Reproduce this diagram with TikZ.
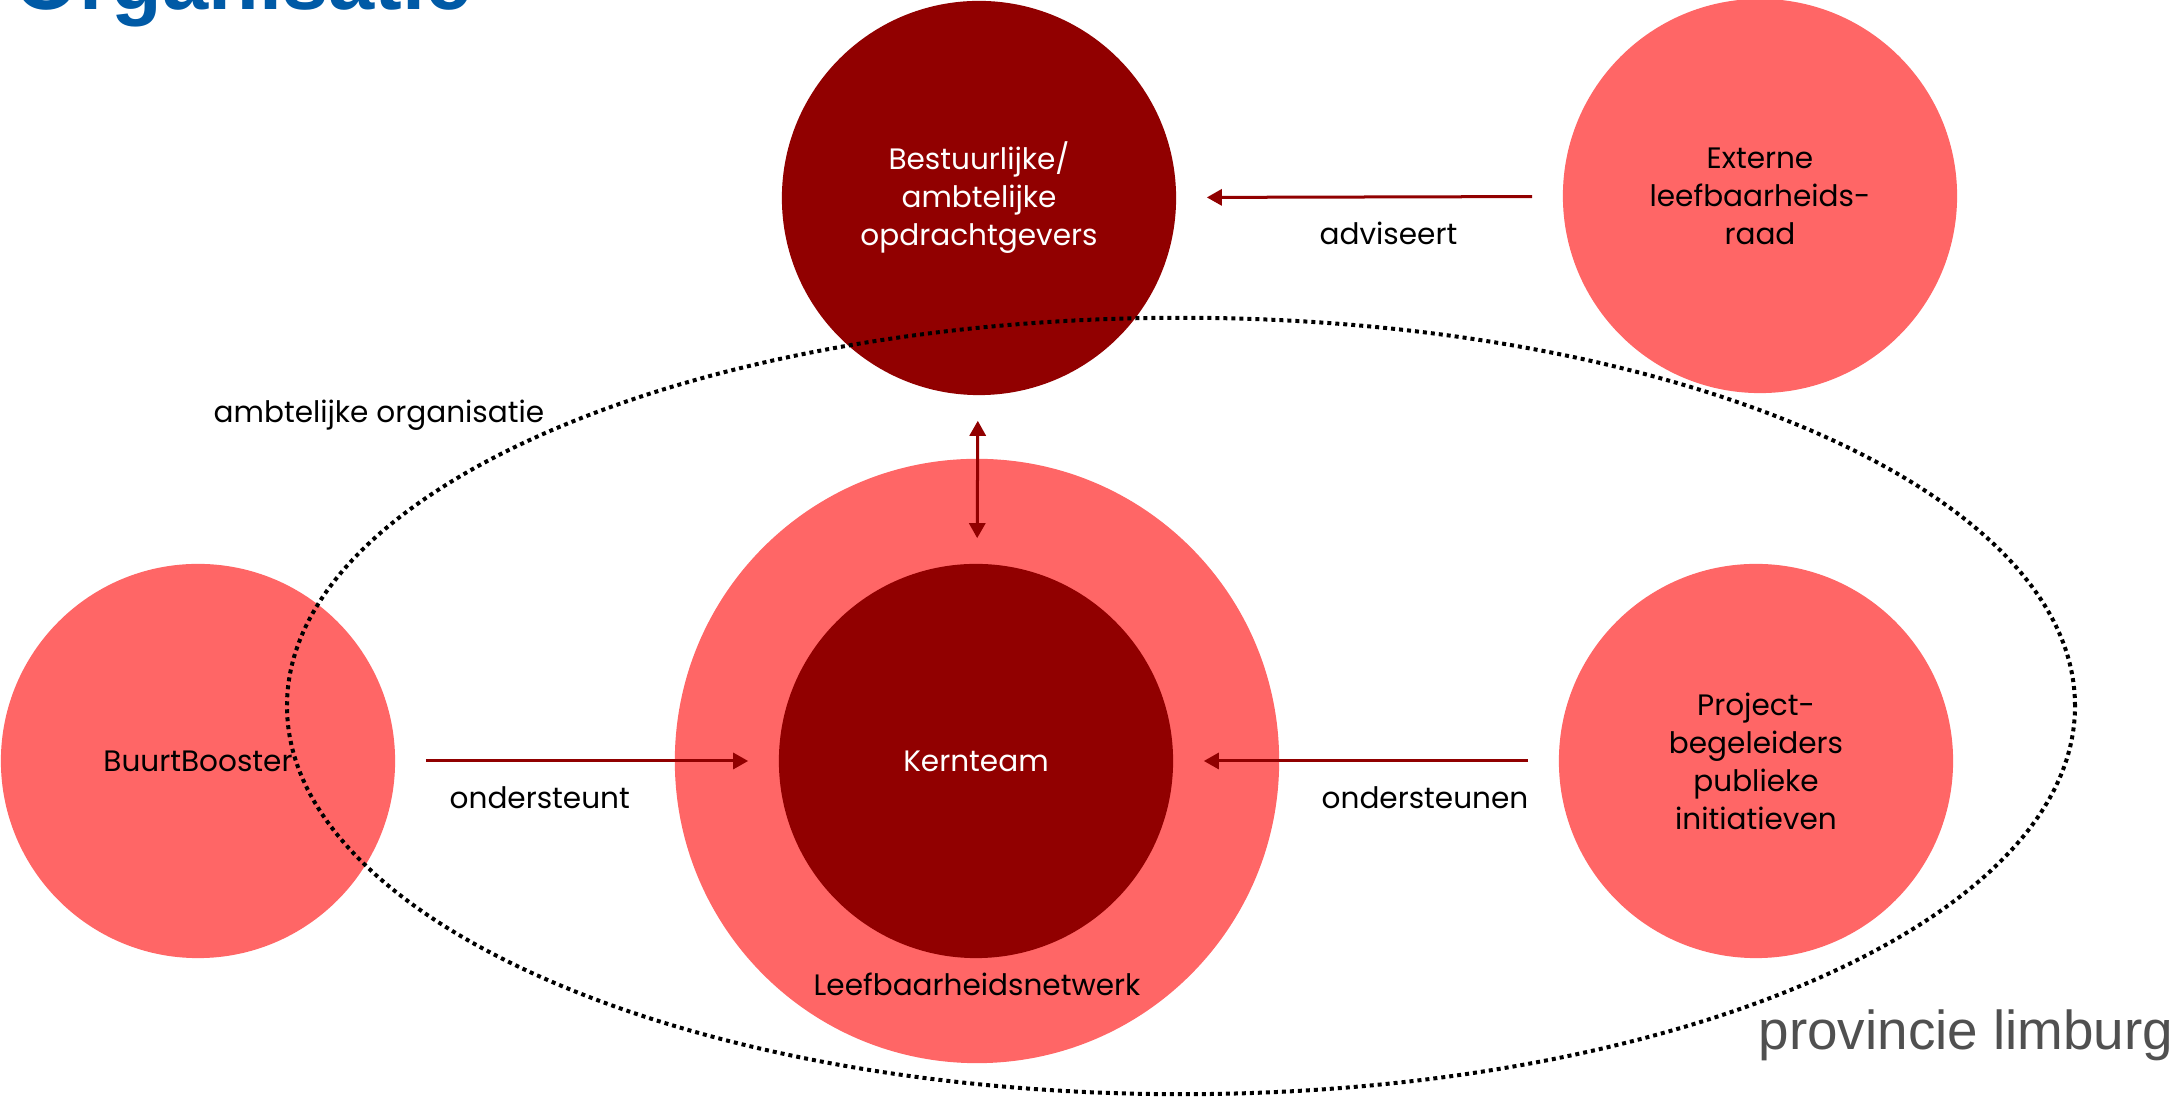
\documentclass[tikz,border=0pt]{standalone}
\usepackage{fontspec}
\setmainfont{Poppins}
\newfontfamily\logofont{Liberation Sans}
\usetikzlibrary{arrows.meta}
\definecolor{donkerrood}{HTML}{910000}
\definecolor{lichtrood}{HTML}{FF6666}
\definecolor{kopblauw}{HTML}{005AA6}
\definecolor{logogrijs}{HTML}{505050}
\tikzset{
  bol/.style={circle, inner sep=0, minimum size=3.94cm, align=center, font=\fontsize{8.4}{10.8}\selectfont},
  pijl/.style={line width=0.03cm, color=donkerrood, -{Triangle[length=0.15cm,width=0.16cm]}, shorten <=0.3cm, shorten >=0.3cm},
  tekst/.style={anchor=base west, inner sep=0, font=\fontsize{8.4}{10.8}\selectfont},
}

\begin{document}
\begin{tikzpicture}[x=0.01cm, y=-0.01cm]
			%%%%% START %%%%%
			\useasboundingbox (0, 0) rectangle (2177, 1098);
			
			\node[anchor=base west, inner sep=0, font=\logofont\bfseries\fontsize{23.6}{28}\selectfont, text=kopblauw] (titel) at (14, 10) {Organisatie};
			
			\node[circle, inner sep=0, minimum size=6.04cm, fill=lichtrood] (netwerk) at (977, 761) {};
			\node[bol, fill=donkerrood, text=white] (kern) at (976, 761) {Kernteam};
			\node[tekst, anchor=base] (netwerklabel) at (977, 996) {Leefbaarheidsnetwerk};
			
			\node[bol, fill=donkerrood, text=white] (opdracht) at (979, 198) {Bestuurlijke/\\ambtelijke\\opdrachtgevers};
			\node[bol, fill=lichtrood] (raad) at (1760, 196) {Externe\\leefbaarheids-\\raad};
			\node[bol, fill=lichtrood] (buurt) at (198, 761) {BuurtBooster};
			\node[bol, fill=lichtrood] (project) at (1756, 761) {Project-\\begeleiders\\publieke\\initiatieven};
			
			\draw[pijl] (raad) -- (opdracht);
			\draw[pijl, {Triangle[length=0.15cm,width=0.16cm]}-{Triangle[length=0.15cm,width=0.16cm]}, shorten <=0.25cm, shorten >=0.25cm] (opdracht) -- (kern);
			\draw[pijl] (buurt) -- (kern);
			\draw[pijl] (project) -- (kern);
			
			\node[tekst] (advies) at (1319, 245) {adviseert};
			\node[tekst] (steunt) at (449, 809) {ondersteunt};
			\node[tekst] (steunen) at (1321, 809) {ondersteunen};
			\node[tekst] (ambtelijk) at (213, 423) {ambtelijke organisatie};
			
			\draw[line width=0.04cm, dash pattern=on 0.04cm off 0.04cm] (1181, 706) ellipse [x radius=8.935cm, y radius=3.88cm];
			
			\node[anchor=base west, inner sep=0, font=\logofont\fontsize{15.6}{18}\selectfont, text=logogrijs] (logo) at (1758, 1050) {provincie limburg};
			%%%%% END %%%%%
\end{tikzpicture}
\end{document}
